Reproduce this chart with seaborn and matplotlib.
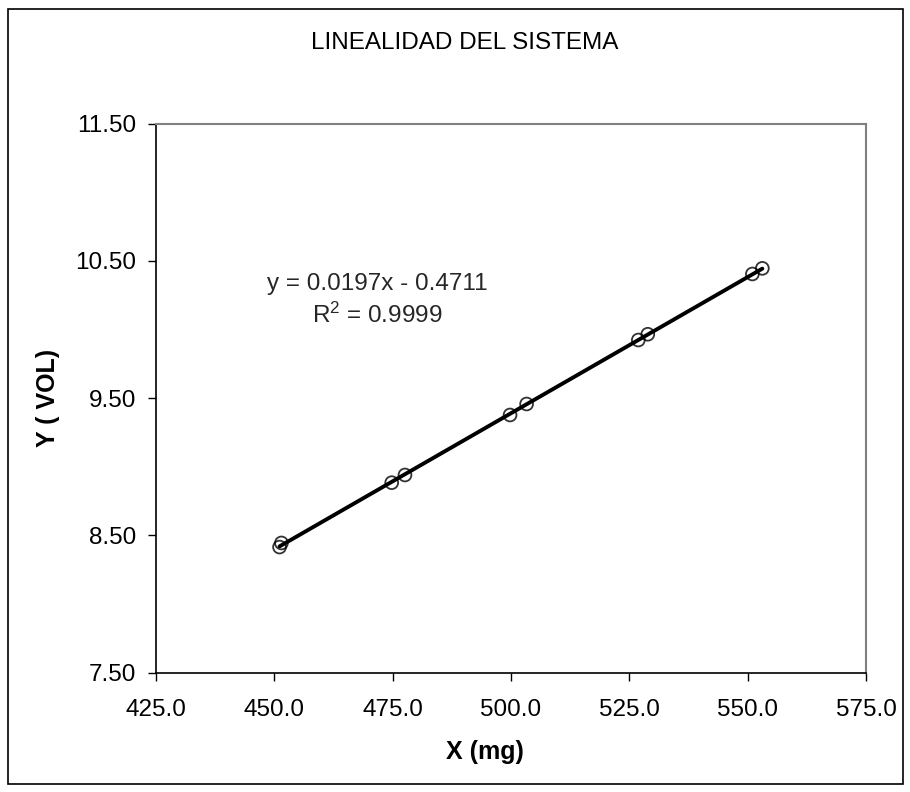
import numpy as np
import pandas as pd
import seaborn as sns
import matplotlib
matplotlib.use('agg')
import matplotlib.pyplot as plt
from matplotlib.patches import Rectangle
from matplotlib.ticker import FormatStrFormatter

# data
x_mg = [451.1, 451.5, 474.8, 477.6, 499.8, 503.3, 526.9, 528.9, 551.0, 553.1]
y_vol = [8.415, 8.445, 8.884, 8.940, 9.377, 9.457, 9.923, 9.965, 10.404, 10.445]
x_ticks = [425.0, 450.0, 475.0, 500.0, 525.0, 550.0, 575.0]
y_ticks = [7.50, 8.50, 9.50, 10.50, 11.50]
equation = "y = 0.0197x - 0.4711\nR$^{2}$ = 0.9999"

df = pd.DataFrame({"x": x_mg, "y": y_vol})

sns.set_theme(style="white")
plt.rcParams['font.family'] = ['Liberation Sans', 'DejaVu Sans']
plt.rcParams['mathtext.fontset'] = 'custom'
plt.rcParams['mathtext.rm'] = 'Liberation Sans'
plt.rcParams['mathtext.default'] = 'regular'

fig = plt.figure(figsize=(9.1, 7.92), dpi=100)
ax = fig.add_axes([156 / 910, 1 - 672.7 / 792, 710 / 910, 549.2 / 792])

sns.regplot(data=df, x="x", y="y", ax=ax, ci=None, color="black",
            scatter_kws={"s": 85, "facecolors": "none", "edgecolors": "black", "linewidths": 1.3},
            line_kws={"color": "black", "lw": 2.8})

ax.set_xlim(425, 575)
ax.set_ylim(7.5, 11.5)
ax.set_xticks(x_ticks)
ax.set_yticks(y_ticks)
ax.xaxis.set_major_formatter(FormatStrFormatter('%.1f'))
ax.yaxis.set_major_formatter(FormatStrFormatter('%.2f'))
ax.tick_params(axis='both', direction='out', length=6, width=1, color='black',
               labelsize=17.5, labelcolor='black', bottom=True, left=True)
ax.tick_params(axis='x', pad=13)
ax.tick_params(axis='y', pad=8)

for side in ['left', 'bottom']:
    ax.spines[side].set_color('black')
    ax.spines[side].set_linewidth(1.2)
for side in ['top', 'right']:
    ax.spines[side].set_color('#808080')
    ax.spines[side].set_linewidth(1.5)

ax.set_xlabel("X (mg)", fontsize=18, fontweight='bold', color='black')
ax.set_ylabel("Y ( VOL)", fontsize=18, fontweight='bold', color='black')
ax.xaxis.set_label_coords(0.463, -0.122)
ax.yaxis.set_label_coords(-0.135, 0.5)

ax.text(0.312, 0.678, equation, transform=ax.transAxes, ha='center', va='center',
        multialignment='center', fontsize=17.5, linespacing=1.4)

fig.text(465 / 910, 1 - 43 / 792, "LINEALIDAD DEL SISTEMA", ha='center', va='center',
         fontsize=17.5, color='black')

fig.patches.append(Rectangle((8 / 910, 1 - 784 / 792), 895 / 910, 775 / 792,
                             transform=fig.transFigure, fill=False, edgecolor='black', lw=1.2))

fig.savefig("out.png", dpi=100, facecolor='white')
